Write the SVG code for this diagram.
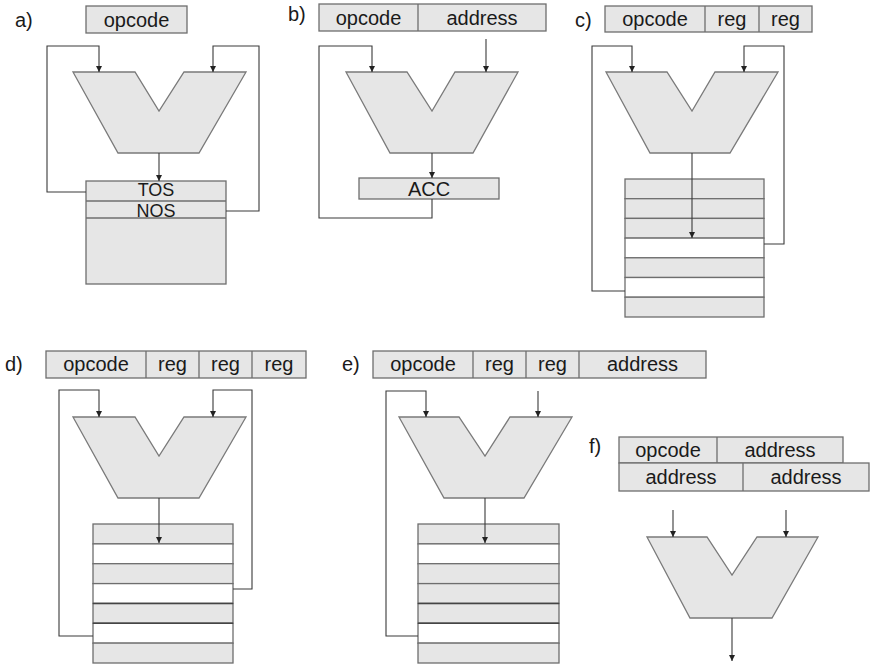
<svg xmlns="http://www.w3.org/2000/svg" width="871" height="665" viewBox="0 0 871 665">
<style>
.bg{fill:#ffffff}
.box{fill:#e6e6e6;stroke:#6e6e6e;stroke-width:1.3}
.wbox{fill:#ffffff;stroke:#6e6e6e;stroke-width:1.3}
.alu{fill:#e6e6e6;stroke:#7a7a7a;stroke-width:1.3}
.sep{stroke:#6e6e6e;stroke-width:1.3;fill:none}
.dsep{stroke:#444;stroke-width:1.5;fill:none}
.wire{fill:none;stroke:#3a3a3a;stroke-width:1.1}
text{font-family:"Liberation Sans",Arial,sans-serif;font-size:20px;fill:#1a1a1a}
.c{text-anchor:middle}
.s{font-size:18px}
</style>
<defs>
<marker id="ah" viewBox="0 0 6 6" refX="6" refY="3" markerWidth="6" markerHeight="6" markerUnits="userSpaceOnUse" orient="auto">
<path d="M0,0 L6,3 L0,6 z" fill="#222"/>
</marker>
</defs>
<rect class="bg" x="0" y="0" width="871" height="665"/>

<!-- Panel a -->
<g id="panel-a">
<text x="15" y="27">a)</text>
<g id="a-instr"><rect class="box" x="86" y="6" width="101" height="27"/><text class="c" x="136.5" y="26.5">opcode</text></g>
<g id="a-alu"><polygon class="alu" points="73,72 135,72 159,111 184,72 246,72 199,153 118,153"/></g>
<g id="a-stack">
<rect class="box" x="86" y="181" width="140" height="103"/>
<line class="sep" x1="86" y1="201" x2="226" y2="201"/>
<line class="sep" x1="86" y1="218" x2="226" y2="218"/>
<text class="c s" x="156" y="195.5">TOS</text>
<text class="c s" x="156" y="217">NOS</text>
</g>
</g>

<!-- Panel b -->
<g id="panel-b">
<text x="288" y="21">b)</text>
<g id="b-instr"><rect class="box" x="319" y="4" width="227" height="27"/><line class="sep" x1="418" y1="4" x2="418" y2="31"/>
<text class="c" x="368.5" y="24.5">opcode</text><text class="c" x="482" y="24.5">address</text></g>
<g id="b-alu"><polygon class="alu" points="346,72 407,72 432,111 455,72 518,72 473,153 390,153"/></g>
<g id="b-acc"><rect class="box" x="359" y="178" width="140" height="21"/><text class="c" x="429" y="196">ACC</text></g>
</g>

<!-- Panel c -->
<g id="panel-c">
<text x="575" y="27">c)</text>
<g id="c-instr"><rect class="box" x="605" y="6" width="207" height="26"/>
<line class="sep" x1="705" y1="6" x2="705" y2="32"/><line class="sep" x1="759" y1="6" x2="759" y2="32"/>
<text class="c" x="655" y="26">opcode</text><text class="c" x="732" y="26">reg</text><text class="c" x="785.5" y="26">reg</text></g>
<g id="c-alu"><polygon class="alu" points="606,72 667,72 692,111 715,72 778,72 730,153 650,153"/></g>
<g id="c-stack">
<rect class="box" x="625" y="179" width="139" height="19.7"/>
<rect class="box" x="625" y="198.7" width="139" height="19.7"/>
<rect class="box" x="625" y="218.4" width="139" height="19.7"/>
<rect class="wbox" x="625" y="238.1" width="139" height="19.7"/>
<rect class="box" x="625" y="257.8" width="139" height="19.7"/>
<rect class="wbox" x="625" y="277.5" width="139" height="19.7"/>
<rect class="box" x="625" y="297.2" width="139" height="19.8"/>
</g>
</g>

<!-- Panel d -->
<g id="panel-d">
<text x="5" y="371">d)</text>
<g id="d-instr"><rect class="box" x="46" y="351" width="260" height="27"/>
<line class="sep" x1="146" y1="351" x2="146" y2="378"/><line class="sep" x1="199" y1="351" x2="199" y2="378"/><line class="sep" x1="252" y1="351" x2="252" y2="378"/>
<text class="c" x="96" y="371">opcode</text><text class="c" x="172.5" y="371">reg</text><text class="c" x="225.5" y="371">reg</text><text class="c" x="279" y="371">reg</text></g>
<g id="d-alu"><polygon class="alu" points="73,417 135,417 159,456 184,417 246,417 199,498 118,498"/></g>
<g id="d-stack">
<rect class="box" x="93" y="524" width="140" height="19.9"/>
<rect class="wbox" x="93" y="543.9" width="140" height="19.9"/>
<rect class="box" x="93" y="563.7" width="140" height="19.9"/>
<rect class="wbox" x="93" y="583.6" width="140" height="19.9"/>
<rect class="box" x="93" y="603.4" width="140" height="19.9"/>
<rect class="wbox" x="93" y="623.3" width="140" height="19.9"/>
<rect class="box" x="93" y="643.1" width="140" height="19.9"/>
<line class="dsep" x1="93" y1="603.4" x2="233" y2="603.4"/>
<line class="dsep" x1="93" y1="623.3" x2="233" y2="623.3"/>
</g>
</g>

<!-- Panel e -->
<g id="panel-e">
<text x="342" y="371">e)</text>
<g id="e-instr"><rect class="box" x="373" y="351" width="333" height="27"/>
<line class="sep" x1="473" y1="351" x2="473" y2="378"/><line class="sep" x1="526" y1="351" x2="526" y2="378"/><line class="sep" x1="579" y1="351" x2="579" y2="378"/>
<text class="c" x="423" y="371">opcode</text><text class="c" x="499.5" y="371">reg</text><text class="c" x="552.5" y="371">reg</text><text class="c" x="642.5" y="371">address</text></g>
<g id="e-alu"><polygon class="alu" points="399,417 459,417 485,456 510,417 572,417 524,498 444,498"/></g>
<g id="e-stack">
<rect class="box" x="418" y="524" width="141" height="19.9"/>
<rect class="wbox" x="418" y="543.9" width="141" height="19.9"/>
<rect class="box" x="418" y="563.7" width="141" height="19.9"/>
<rect class="box" x="418" y="583.6" width="141" height="19.9"/>
<rect class="box" x="418" y="603.4" width="141" height="19.9"/>
<rect class="wbox" x="418" y="623.3" width="141" height="19.9"/>
<rect class="box" x="418" y="643.1" width="141" height="19.9"/>
<line class="dsep" x1="418" y1="603.4" x2="559" y2="603.4"/>
<line class="dsep" x1="418" y1="623.3" x2="559" y2="623.3"/>
</g>
</g>

<!-- Panel f -->
<g id="panel-f">
<text x="589" y="453">f)</text>
<g id="f-instr1"><rect class="box" x="619" y="437" width="224" height="26"/><line class="sep" x1="717" y1="437" x2="717" y2="463"/>
<text class="c" x="668" y="457">opcode</text><text class="c" x="780" y="457">address</text></g>
<g id="f-instr2"><rect class="box" x="619" y="463" width="250" height="28"/><line class="sep" x1="743" y1="463" x2="743" y2="491"/>
<text class="c" x="681" y="484">address</text><text class="c" x="806" y="484">address</text></g>
<g id="f-alu"><polygon class="alu" points="647,537 707,537 732,575 757,537 818,537 772,618 690,618"/></g>
</g>

<!-- Connectors -->
<g id="connectors">
<path class="wire" d="M86,192 H47 V46 H99 V72" marker-end="url(#ah)"/>
<path class="wire" d="M226,211 H259 V46 H213 V72" marker-end="url(#ah)"/>
<path class="wire" d="M159,153 V181" marker-end="url(#ah)"/>

<path class="wire" d="M432,199 V218 H319 V46 H372 V72" marker-end="url(#ah)"/>
<path class="wire" d="M486,39 V72" marker-end="url(#ah)"/>
<path class="wire" d="M432,153 V178" marker-end="url(#ah)"/>

<path class="wire" d="M625,291 H592 V46 H632 V72" marker-end="url(#ah)"/>
<path class="wire" d="M764,244 H784 V46 H744 V72" marker-end="url(#ah)"/>
<path class="wire" d="M692,153 V238" marker-end="url(#ah)"/>

<path class="wire" d="M93,636 H59 V390 H99 V417" marker-end="url(#ah)"/>
<path class="wire" d="M233,589 H252 V390 H213 V417" marker-end="url(#ah)"/>
<path class="wire" d="M159,498 V543" marker-end="url(#ah)"/>

<path class="wire" d="M418,636 H386 V391 H426 V417" marker-end="url(#ah)"/>
<path class="wire" d="M538,391 V417" marker-end="url(#ah)"/>
<path class="wire" d="M485,498 V543" marker-end="url(#ah)"/>

<path class="wire" d="M673,510 V537" marker-end="url(#ah)"/>
<path class="wire" d="M786,510 V537" marker-end="url(#ah)"/>
<path class="wire" d="M732,618 V661" marker-end="url(#ah)"/>
</g>
</svg>
